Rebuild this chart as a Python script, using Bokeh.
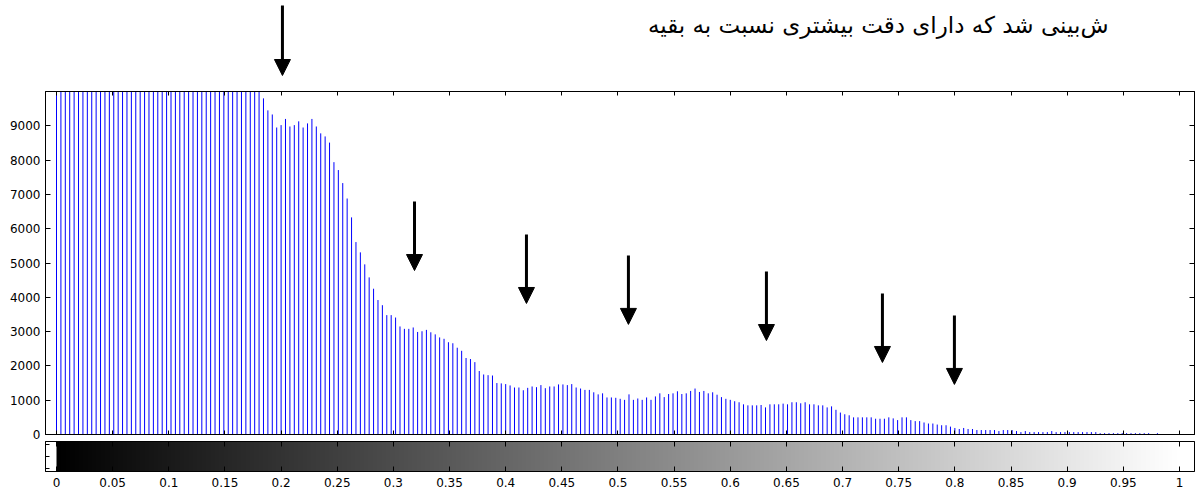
import numpy as np
from bokeh.plotting import figure
from bokeh.layouts import column
from bokeh.models import (Range1d, FixedTicker, LinearAxis, Arrow, NormalHead,
                          Label, LinearColorMapper)
from bokeh.palettes import Greys256
from bokeh.embed import file_html
from bokeh.resources import INLINE

# ---------------- data ----------------
gray_levels = [i / 255 for i in range(256)]

clipped = [10000] * 47          # bins 0..46 run off the top of the axes
counts_47_99 = [9800, 9450, 9330, 8950, 9020, 9200, 8980, 9020, 9130, 8950,
                9070, 9200, 8980, 8780, 8690, 8510, 7940, 7710, 7330, 6880,
                6330, 5610, 5310, 4960, 4580, 4250, 3920, 3770, 3480, 3480,
                3410, 3150, 3080, 3080, 3120, 2990, 3010, 3050, 2980, 2920,
                2830, 2790, 2690, 2660, 2530, 2440, 2230, 2200, 2110, 1850,
                1750, 1730, 1720]
counts_100_149 = [1500, 1490, 1470, 1430, 1370, 1370, 1290, 1360, 1400, 1380,
                  1440, 1350, 1400, 1400, 1460, 1460, 1440, 1470, 1370, 1340,
                  1300, 1300, 1230, 1170, 1200, 1080, 1080, 1070, 1040, 1010,
                  1170, 1010, 1050, 1010, 1080, 1010, 1110, 1200, 1090, 1180,
                  1200, 1260, 1180, 1200, 1270, 1340, 1240, 1270, 1200, 1230]
counts_150_199 = [1160, 1090, 1040, 1010, 970, 940, 880, 850, 850, 850,
                  860, 790, 880, 880, 880, 900, 880, 940, 940, 910,
                  940, 880, 880, 850, 850, 790, 820, 720, 640, 590,
                  560, 500, 500, 500, 500, 500, 460, 460, 460, 500,
                  470, 420, 500, 500, 420, 390, 390, 350, 320, 320]
counts_200_255 = [290, 270, 270, 230, 190, 160, 190, 160, 160, 130,
                  130, 130, 130, 130, 100, 130, 130, 130, 100, 70,
                  100, 70, 70, 70, 70, 70, 100, 70, 70, 70,
                  70, 70, 70, 70, 70, 70, 70, 40, 40, 40,
                  40, 40, 40, 40, 40, 40, 40, 40, 40, 0,
                  40, 0, 0, 0, 0, 0]
counts = clipped + counts_47_99 + counts_100_149 + counts_150_199 + counts_200_255

y_ticks = [0, 1000, 2000, 3000, 4000, 5000, 6000, 7000, 8000, 9000]
x_ticks = [0.0, 0.05, 0.1, 0.15, 0.2, 0.25, 0.3, 0.35, 0.4, 0.45, 0.5,
           0.55, 0.6, 0.65, 0.7, 0.75, 0.8, 0.85, 0.9, 0.95, 1.0]
x_tick_labels = ["0", "0.05", "0.1", "0.15", "0.2", "0.25", "0.3", "0.35",
                 "0.4", "0.45", "0.5", "0.55", "0.6", "0.65", "0.7", "0.75",
                 "0.8", "0.85", "0.9", "0.95", "1"]
cbar_y_ticks = [0.6, 1.0, 1.4]

title_text = "ش\u200cبینی شد که دارای دقت بیشتری نسبت به بقیه"

# arrows inside the histogram axes (data units)
arrow_x = [0.3188, 0.4185, 0.5093, 0.6322, 0.7355, 0.7996]
arrow_top = [6790, 5830, 5220, 4750, 4110, 3470]
arrow_tip = [4780, 3820, 3210, 2740, 2100, 1460]
# arrow above the axes (top strip, page-pixel units)
top_arrow_x = 0.2012
top_arrow_y = (5, 75)

# ---------------- layout constants ----------------
W = 1195
LEFT = 45
RIGHT = 1
FONT = "DejaVu Sans"

x_range = Range1d(-0.0098, 1.0134)


def style_axis(ax, labels=True, tick=5):
    ax.major_tick_in = tick
    ax.major_tick_out = 0
    ax.minor_tick_line_color = None
    ax.axis_line_color = "black"
    ax.major_tick_line_color = "black"
    ax.major_label_text_font = FONT
    ax.axis_label = None
    if labels:
        ax.major_label_text_font_size = "12px"
        ax.major_label_text_color = "black"
    else:
        ax.major_label_text_font_size = "0px"
        ax.major_label_text_color = None
        ax.major_label_standoff = 0


# ---------------- top strip ----------------
p_top = figure(width=W, height=88, x_range=x_range, y_range=Range1d(88, 0),
               output_backend="svg", toolbar_location=None,
               min_border_left=LEFT, min_border_right=RIGHT,
               min_border_top=0, min_border_bottom=0)
p_top.xaxis.visible = False
p_top.yaxis.visible = False
p_top.grid.visible = False
p_top.outline_line_color = None
p_top.add_layout(Label(x=0.9368, y=24, text=title_text, text_align="right",
                       text_baseline="alphabetic", text_font=FONT,
                       text_font_size="23px", text_color="black"))
p_top.add_layout(Arrow(end=NormalHead(size=16, fill_color="black",
                                      line_color="black", line_width=1),
                       x_start=top_arrow_x, y_start=top_arrow_y[0],
                       x_end=top_arrow_x, y_end=top_arrow_y[1],
                       line_width=3, line_color="black"))

# ---------------- histogram ----------------
p = figure(width=W, height=353, x_range=x_range, y_range=Range1d(0, 10000),
           output_backend="svg", toolbar_location=None,
           min_border_left=LEFT, min_border_right=RIGHT,
           min_border_top=3, min_border_bottom=7)
p.grid.visible = False
p.outline_line_color = "black"
p.segment(x0=gray_levels, y0=[0] * 256, x1=gray_levels, y1=counts,
          line_color="#0000ff", line_width=1)

p.xaxis.ticker = FixedTicker(ticks=x_ticks)
style_axis(p.xaxis[0], labels=False, tick=4)
p.yaxis.ticker = FixedTicker(ticks=y_ticks)
style_axis(p.yaxis[0], labels=True, tick=5)
p.yaxis[0].major_label_standoff = 5

ax_top = LinearAxis(ticker=FixedTicker(ticks=x_ticks))
style_axis(ax_top, labels=False, tick=4)
p.add_layout(ax_top, "above")
ax_right = LinearAxis(ticker=FixedTicker(ticks=y_ticks))
style_axis(ax_right, labels=False, tick=5)
p.add_layout(ax_right, "right")

for xa, yt, ye in zip(arrow_x, arrow_top, arrow_tip):
    p.add_layout(Arrow(end=NormalHead(size=16, fill_color="black",
                                      line_color="black", line_width=1),
                       x_start=xa, y_start=yt, x_end=xa, y_end=ye,
                       line_width=3, line_color="black"))

# ---------------- colour bar ----------------
pc = figure(width=W, height=50, x_range=x_range, y_range=Range1d(0.5, 1.5),
            output_backend="svg", toolbar_location=None,
            min_border_left=LEFT, min_border_right=RIGHT,
            min_border_top=0, min_border_bottom=20)
pc.grid.visible = False
pc.outline_line_color = "black"
mapper = LinearColorMapper(palette=Greys256, low=0, high=1)
pc.image(image=[np.array(gray_levels).reshape(1, 256)], x=0, y=0.5, dw=1, dh=1,
         color_mapper=mapper)
pc.xaxis.ticker = FixedTicker(ticks=x_ticks)
pc.xaxis.major_label_overrides = dict(zip(x_ticks, x_tick_labels))
style_axis(pc.xaxis[0], labels=True, tick=5)
pc.xaxis[0].major_label_standoff = 6
pc.yaxis.ticker = FixedTicker(ticks=cbar_y_ticks)
style_axis(pc.yaxis[0], labels=False, tick=4)
cb_top = LinearAxis(ticker=FixedTicker(ticks=x_ticks))
style_axis(cb_top, labels=False, tick=5)
pc.add_layout(cb_top, "above")

layout = column(p_top, p, pc)
open("out.html", "w").write(file_html(layout, INLINE))
